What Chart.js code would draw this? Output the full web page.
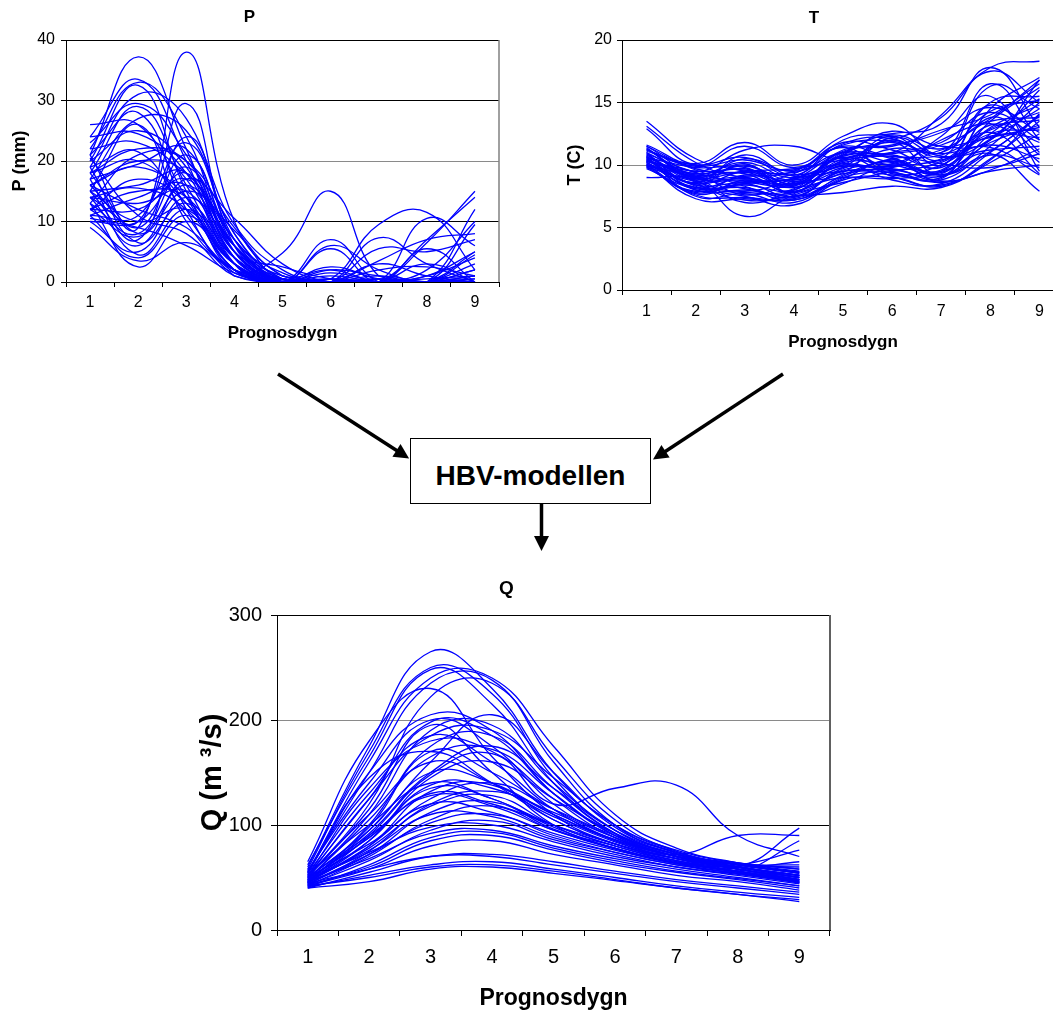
<!DOCTYPE html>
<html>
<head>
<meta charset="utf-8">
<title>HBV ensemble</title>
<script src="https://cdn.jsdelivr.net/npm/chart.js@4.4.1/dist/chart.umd.min.js"></script>
<style>
  html, body { margin: 0; padding: 0; background: #fff; }
  body { position: relative; width: 1053px; height: 1012px; overflow: hidden; }
  canvas { position: absolute; }
  #modelBox {
    position: absolute; left: 410px; top: 438px; width: 241px; height: 66px;
    box-sizing: border-box; border: 1.5px solid #000; background: #fff;
    display: flex; align-items: center; justify-content: center; padding-top: 9px;
    font: bold 28px 'Liberation Sans', Arial, sans-serif; color: #000;
  }
  #arrows { position: absolute; left: 0; top: 0; }
</style>
</head>
<body>
<canvas id="chartP" width="500" height="345" style="left:0;top:0"></canvas>
<canvas id="chartT" width="501" height="353" style="left:564px;top:0"></canvas>
<canvas id="chartQ" width="648" height="452" style="left:183px;top:560px"></canvas>

<svg id="arrows" width="1053" height="1012">
  <defs>
    <marker id="head" viewBox="0 0 10 10" refX="2" refY="5" markerUnits="userSpaceOnUse"
            markerWidth="17" markerHeight="15" orient="auto">
      <path d="M0,0 L10,5 L0,10 z" fill="#000"/>
    </marker>
  </defs>
  <line x1="278" y1="374" x2="399" y2="452" stroke="#000" stroke-width="3.5" marker-end="url(#head)"/>
  <line x1="783" y1="374" x2="663" y2="453" stroke="#000" stroke-width="3.5" marker-end="url(#head)"/>
  <line x1="541.5" y1="504" x2="541.5" y2="539" stroke="#000" stroke-width="3.5" marker-end="url(#head)"/>
</svg>
<div id="modelBox">HBV-modellen</div>

<script>
// ---------------------------
// Forecast days and axis ticks
// ---------------------------
const days = ['1', '2', '3', '4', '5', '6', '7', '8', '9'];
const precipTicks = [0, 10, 20, 30, 40];
const tempTicks = [0, 5, 10, 15, 20];
const flowTicks = [0, 100, 200, 300];

// Precipitation ensemble members, mm per forecast day
const precipMembers = [
  [21, 37.2, 22, 4, 0.5, 0, 0, 0.5, 1],
  [16, 9, 38, 10, 1, 0, 0, 0, 0.5],
  [14, 10, 29.5, 6, 0.5, 0, 0.5, 0, 2],
  [24, 33.5, 20, 3, 0, 0.5, 0, 0, 0],
  [22, 33, 24, 5, 0.3, 0, 0, 1, 4],
  [20, 32.5, 15, 2, 0, 0, 0.5, 0, 0],
  [19, 31, 27, 7, 1, 2, 0, 0, 5],
  [26, 26, 14, 2, 0, 1, 0, 0, 0],
  [24, 24.5, 18, 4, 0, 0, 1, 0, 0],
  [23, 29.5, 21, 6, 0.5, 0, 0, 2, 10],
  [18, 29, 16, 3, 0, 0, 0, 0, 1],
  [21, 28, 12, 1, 0, 2.5, 0.5, 0, 0],
  [17, 27, 25, 8, 0.5, 0, 3, 1, 0],
  [15, 26, 10, 2, 0, 0, 0, 0, 3],
  [20, 25, 19, 5, 2.5, 0.5, 0, 3, 0],
  [22, 23, 17, 3, 0, 0, 0, 0, 0.5],
  [19, 21.5, 11, 1.5, 0, 0, 5.5, 5, 7],
  [13, 21, 20, 9, 1, 0, 0, 0, 0],
  [18, 20, 13, 3, 0, 0.5, 0, 0, 2],
  [17, 19.5, 22, 6, 0, 0, 0, 0, 0],
  [16, 19, 14, 2, 0.5, 0, 0, 7, 14],
  [15, 16, 18, 4, 0, 0, 0, 0, 0],
  [14, 15.5, 12, 2, 0, 1.5, 0, 0, 1],
  [12, 12, 17, 7, 0, 0, 0, 0, 0],
  [11, 11, 23, 8, 0.5, 0, 0, 0, 0],
  [10, 10, 18, 5, 0, 0, 0, 1, 5],
  [18, 9, 21, 7, 1.5, 0, 0, 0, 0],
  [13, 8, 19, 5, 0, 0, 7.3, 3, 0],
  [21, 8, 16, 6, 0, 0, 0, 0, 0],
  [12, 7.5, 15, 8.5, 0, 0, 0, 0, 0],
  [15, 7, 24, 9.5, 2, 0, 0, 0, 0],
  [19, 6.5, 13, 4, 0, 0, 0, 0, 12],
  [14, 6, 17, 10.5, 3, 0, 0, 0, 0],
  [10, 5, 14, 6, 0, 0, 0, 0, 0],
  [17, 4.5, 12, 4, 0, 0, 0, 10.5, 6],
  [11, 4, 11, 3, 0, 7, 0, 0, 0],
  [9, 3.5, 6.5, 2, 0, 0, 0, 0, 0],
  [13, 2.5, 10, 3, 0, 0, 0, 0, 0],
  [10.5, 9, 6, 1.5, 0, 0, 0, 0, 0],
  [16, 12, 9, 2, 0, 0, 0, 0, 0],
  [12, 17, 13, 2, 4.8, 15, 1, 0, 0],
  [15, 10, 12, 3, 0, 0.5, 9.5, 11.5, 2],
  [11, 14, 16, 5, 0, 0, 0, 6.5, 15],
  [18, 22, 20, 7, 0, 6, 2, 0, 9.5],
  [14, 13, 15, 4, 0, 5.5, 0, 5.5, 0],
  [16, 20, 18, 6, 0, 0, 3.5, 7, 8],
  [12, 15, 14, 3, 0, 2, 1, 0, 4.5],
  [20.5, 11, 8, 1, 0, 0, 2, 2.5, 1]
];

// Temperature ensemble members, degrees C
const tempMembers = [
  [13.5, 10.5, 9.5, 8.5, 11, 12, 13.8, 17.5, 15],
  [13.1, 10.2, 9, 9, 12, 12.5, 13.3, 17.8, 13],
  [12.9, 10, 11.5, 9.8, 11.5, 11, 14, 17.8, 18.3],
  [11.6, 10.1, 11.8, 10, 12.3, 13.3, 11, 16.5, 12],
  [11.5, 9.5, 11.2, 11.5, 10.5, 12, 10.5, 16.3, 14.5],
  [11.3, 9, 10.5, 9.5, 11, 10.5, 9, 14.5, 17],
  [11, 9.3, 10.2, 9, 10.8, 12.7, 11.5, 12, 16.8],
  [10.8, 8.8, 10, 8.5, 11.2, 11.5, 12.8, 14, 16.5],
  [10.6, 9.8, 9.8, 8.2, 10.2, 10, 9.5, 13.5, 16.2],
  [10.5, 8.5, 9.5, 9.2, 10, 12.3, 10, 15, 15.5],
  [10.3, 9.2, 9.3, 7.8, 9.8, 11.8, 9.2, 12.5, 15.3],
  [10.2, 8.2, 9, 8, 11, 9.5, 8.8, 11.5, 15],
  [10, 8.7, 8.8, 8.3, 10.5, 10.8, 9.8, 13, 14.8],
  [9.8, 7.8, 8.5, 7.5, 9.5, 9.2, 9, 12, 14.5],
  [11.2, 9.6, 8.3, 7.2, 9.2, 10.5, 10.8, 12.8, 14.2],
  [11, 8, 8, 7.8, 10, 8.8, 8.5, 11, 14],
  [10.7, 7.5, 7.7, 7, 9, 9.8, 12, 13.5, 13.8],
  [10.4, 8.3, 7.5, 6.8, 8.8, 9, 8.3, 10.5, 13.5],
  [10.1, 7.3, 7.3, 7.2, 8.5, 10, 9.5, 11.8, 13.2],
  [9.9, 9, 7, 8, 9.8, 9.8, 11.2, 12.2, 13],
  [9, 8.8, 5.9, 7.6, 8.6, 9.5, 10.2, 12.5, 12.8],
  [11.4, 8.6, 7.2, 7.5, 7.8, 8.3, 8.2, 10.2, 12.5],
  [10.9, 9.4, 8.7, 9.3, 11.4, 9.3, 10, 12.3, 12.2],
  [10.6, 9.1, 9.9, 8.8, 10.3, 11, 11.8, 14.2, 12],
  [10.2, 8.4, 7.8, 8.1, 10.8, 10.2, 9.6, 13.2, 11.8],
  [10, 7.9, 9.2, 8.7, 9.4, 12.2, 10.7, 11.2, 11.5],
  [9.7, 8.1, 8.2, 7.4, 9.6, 9.7, 8.7, 9.6, 11.3],
  [11.1, 9.9, 10.4, 9.6, 11.8, 11.2, 9.9, 14.8, 11],
  [10.8, 8.9, 8.9, 8.6, 10.7, 10.6, 8.9, 13.8, 10.8],
  [10.5, 8.6, 10.8, 9.1, 9.9, 9.9, 10.4, 11.6, 10.5],
  [10.3, 9.5, 9.6, 8.4, 10.9, 12.4, 11.3, 13.3, 10.2],
  [10.1, 8.2, 8.4, 7.9, 9.3, 9.4, 8.6, 9.5, 10],
  [9.9, 7.6, 7.4, 7.3, 8.9, 10.4, 9.2, 10.8, 9.8],
  [11.5, 9.7, 9.4, 9.4, 10.6, 10.1, 12.3, 15.5, 9.5],
  [10.7, 8.7, 7.9, 8.9, 10.1, 9.6, 10.3, 12.6, 9.3],
  [10.4, 9.3, 9.7, 8.5, 9.7, 11.3, 10.9, 11.4, 9.2],
  [10.2, 8.4, 8.6, 8.2, 9, 8.9, 9.4, 10.9, 7.9],
  [10, 9, 8.1, 7.7, 10.4, 10.9, 11.6, 13.7, 16.8],
  [11.3, 9.1, 9.1, 9.5, 11.6, 11.9, 11, 14.3, 15.2],
  [10.9, 8.5, 10.1, 7.6, 9.1, 10.3, 9.3, 12.9, 13.6],
  [10.6, 7.7, 8.8, 8.4, 10.6, 9.1, 8.4, 10.4, 14.1],
  [10.3, 9.4, 7.6, 8.8, 11.1, 11.6, 12.6, 14.6, 12.6],
  [9.8, 8.9, 9.5, 9.7, 10.4, 10.7, 10.1, 9.8, 10.9],
  [11.2, 10, 10.6, 9.2, 11.7, 12.1, 10.6, 12.1, 16],
  [10.5, 8, 8.5, 8.9, 9.5, 9.6, 9.1, 11.1, 13.9]
];

// Simulated runoff members, m3/s
const flowMembers = [
  [60, 175, 265, 230, 150, 100, 75, 62, 55],
  [58, 170, 250, 225, 145, 95, 72, 60, 52],
  [62, 165, 248, 215, 140, 92, 70, 58, 50],
  [55, 150, 235, 238, 160, 100, 73, 60, 52],
  [65, 180, 230, 165, 110, 82, 68, 58, 48],
  [50, 120, 222, 235, 165, 105, 75, 62, 54],
  [57, 140, 200, 175, 120, 88, 70, 60, 50],
  [52, 125, 198, 185, 130, 90, 70, 58, 48],
  [48, 110, 190, 195, 140, 95, 72, 60, 50],
  [54, 130, 185, 160, 115, 85, 68, 56, 46],
  [46, 95, 160, 205, 150, 98, 74, 60, 52],
  [50, 115, 195, 150, 100, 80, 66, 55, 45],
  [45, 100, 175, 185, 135, 92, 70, 58, 48],
  [52, 135, 180, 170, 125, 88, 70, 62, 55],
  [48, 105, 165, 172, 130, 90, 70, 60, 52],
  [56, 145, 170, 140, 105, 82, 66, 56, 48],
  [44, 90, 148, 168, 120, 135, 138, 90, 70],
  [50, 95, 150, 140, 110, 85, 70, 60, 52],
  [47, 85, 138, 135, 108, 84, 68, 58, 50],
  [53, 100, 140, 125, 100, 80, 65, 56, 47],
  [45, 80, 132, 138, 105, 82, 68, 60, 97],
  [49, 88, 135, 125, 98, 78, 64, 55, 46],
  [43, 75, 120, 132, 112, 86, 72, 90, 90],
  [51, 90, 128, 118, 95, 78, 64, 56, 48],
  [46, 78, 118, 128, 100, 80, 66, 58, 50],
  [44, 72, 112, 122, 96, 78, 64, 56, 85],
  [50, 82, 120, 112, 92, 76, 63, 54, 45],
  [42, 70, 105, 118, 95, 77, 64, 62, 76],
  [47, 76, 110, 108, 88, 74, 62, 54, 46],
  [45, 72, 102, 110, 90, 74, 62, 54, 47],
  [48, 74, 98, 100, 84, 70, 60, 52, 44],
  [43, 66, 95, 104, 86, 72, 60, 53, 45],
  [46, 68, 92, 95, 80, 68, 58, 50, 42],
  [41, 62, 88, 93, 78, 66, 56, 49, 42],
  [44, 60, 85, 90, 76, 64, 55, 48, 40],
  [42, 58, 80, 85, 72, 62, 52, 46, 38],
  [40, 55, 70, 72, 65, 56, 48, 42, 36],
  [43, 58, 70, 70, 62, 54, 46, 40, 34],
  [41, 52, 62, 65, 58, 50, 42, 36, 31],
  [40, 46, 58, 60, 54, 47, 40, 34, 29],
  [42, 50, 60, 62, 56, 48, 40, 34, 27],
  [55, 160, 240, 240, 175, 110, 78, 64, 56],
  [54, 150, 205, 190, 130, 92, 72, 62, 60],
  [51, 125, 185, 190, 145, 100, 76, 64, 58],
  [47, 92, 150, 175, 135, 95, 74, 63, 62],
  [49, 98, 170, 150, 115, 88, 70, 60, 65],
  [45, 85, 145, 160, 125, 92, 72, 64, 58],
  [52, 110, 160, 140, 110, 86, 70, 62, 54],
  [46, 80, 125, 140, 115, 90, 72, 63, 55],
  [48, 88, 130, 120, 100, 82, 68, 60, 52]
];

const lineBlue = '#0000ff';
const sans = "'Liberation Sans', Arial";

// ---------------------------
// Plot frame: right edge of the plot area
// ---------------------------
const plotFrame = {
  id: 'plotFrame',
  afterDraw(chart, args, opts) {
    const a = chart.chartArea;
    const ctx = chart.ctx;
    ctx.save();
    ctx.strokeStyle = opts.color || '#808080';
    ctx.lineWidth = opts.width || 1;
    ctx.beginPath();
    ctx.moveTo(a.right, a.top);
    ctx.lineTo(a.right, a.bottom);
    ctx.stroke();
    ctx.restore();
  }
};

function fontOf(size, bold) {
  return { family: sans, size: size, weight: bold ? 'bold' : 'normal', lineHeight: 1.2 };
}

function buildChart(id, members, ticks, cfg) {
  return new Chart(document.getElementById(id), {
    type: 'line',
    data: {
      labels: days,
      datasets: members.map((vals, i) => ({
        label: cfg.title + ' ' + (i + 1),
        data: vals,
        borderColor: lineBlue,
        borderWidth: cfg.lineWidth,
        pointRadius: 0,
        tension: 0.45,
        fill: false
      }))
    },
    options: {
      responsive: false,
      animation: false,
      events: [],
      layout: { padding: cfg.padding },
      plugins: {
        legend: { display: false },
        tooltip: { enabled: false },
        title: {
          display: true,
          text: cfg.title,
          color: '#000',
          font: cfg.titleFont,
          padding: cfg.titlePad
        },
        plotFrame: cfg.frame
      },
      scales: {
        x: {
          offset: true,
          grid: {
            offset: true,
            drawOnChartArea: false,
            tickLength: cfg.tickLen,
            color: '#000'
          },
          border: { color: '#000' },
          ticks: { color: '#000', font: cfg.tickFont, padding: cfg.xTickPad, maxRotation: 0 },
          title: {
            display: true,
            text: 'Prognosdygn',
            color: '#000',
            font: cfg.axisFont,
            padding: { top: 0, bottom: cfg.xTitlePad }
          },
          afterFit(scale) { scale.height = cfg.xHeight; }
        },
        y: {
          min: ticks[0],
          max: ticks[ticks.length - 1],
          afterBuildTicks(scale) { scale.ticks = ticks.map(v => ({ value: v })); },
          grid: {
            tickLength: cfg.tickLen,
            color: c => (c.tick && c.tick.value === cfg.softLine) ? '#8a8a8a' : '#000',
            tickColor: '#000'
          },
          border: { color: '#000' },
          ticks: { color: '#000', font: cfg.tickFont, padding: cfg.yTickPad },
          title: {
            display: true,
            text: cfg.yTitle,
            color: '#000',
            font: cfg.yTitleFont,
            padding: { top: cfg.yTitlePad, bottom: 0 }
          },
          afterFit(scale) { scale.width = cfg.yWidth; }
        }
      }
    },
    plugins: [plotFrame]
  });
}

// P chart (top left)
buildChart('chartP', precipMembers, precipTicks, {
  title: 'P',
  yTitle: 'P (mm)',
  lineWidth: 1.3,
  padding: { left: 0, right: 1, top: 0, bottom: 0 },
  titleFont: fontOf(17, true),
  titlePad: { top: 6.8, bottom: 12.8 },
  tickFont: fontOf(16, false),
  axisFont: fontOf(17, true),
  yTitleFont: fontOf(18, true),
  tickLen: 5,
  xTickPad: 6,
  yTickPad: 6,
  xTitlePad: 1,
  yTitlePad: 9,
  xHeight: 63,
  yWidth: 66,
  softLine: 20,
  frame: { color: '#808080', width: 1.5 }
});

// T chart (top right)
buildChart('chartT', tempMembers, tempTicks, {
  title: 'T',
  yTitle: 'T (C)',
  lineWidth: 1.3,
  padding: { left: 0, right: 1, top: 0, bottom: 0 },
  titleFont: fontOf(17, true),
  titlePad: { top: 7.8, bottom: 11.8 },
  tickFont: fontOf(16, false),
  axisFont: fontOf(17, true),
  yTitleFont: fontOf(18, true),
  tickLen: 5,
  xTickPad: 7,
  yTickPad: 5,
  xTitlePad: 0,
  yTitlePad: 0.5,
  xHeight: 63,
  yWidth: 58,
  softLine: 10,
  frame: { color: '#808080', width: 1.5 }
});

// Q chart (bottom)
buildChart('chartQ', flowMembers, flowTicks, {
  title: 'Q',
  yTitle: 'Q (m \u00b3/s)',
  lineWidth: 1.3,
  padding: { left: 0, right: 1, top: 0, bottom: 0 },
  titleFont: fontOf(19, true),
  titlePad: { top: 17.6, bottom: 14.6 },
  tickFont: fontOf(20, false),
  axisFont: fontOf(23, true),
  yTitleFont: fontOf(29, true),
  tickLen: 6,
  xTickPad: 9,
  yTickPad: 9,
  xTitlePad: 0,
  yTitlePad: 13,
  xHeight: 82,
  yWidth: 94,
  softLine: 200,
  frame: { color: '#606060', width: 2 }
});
</script>
</body>
</html>
